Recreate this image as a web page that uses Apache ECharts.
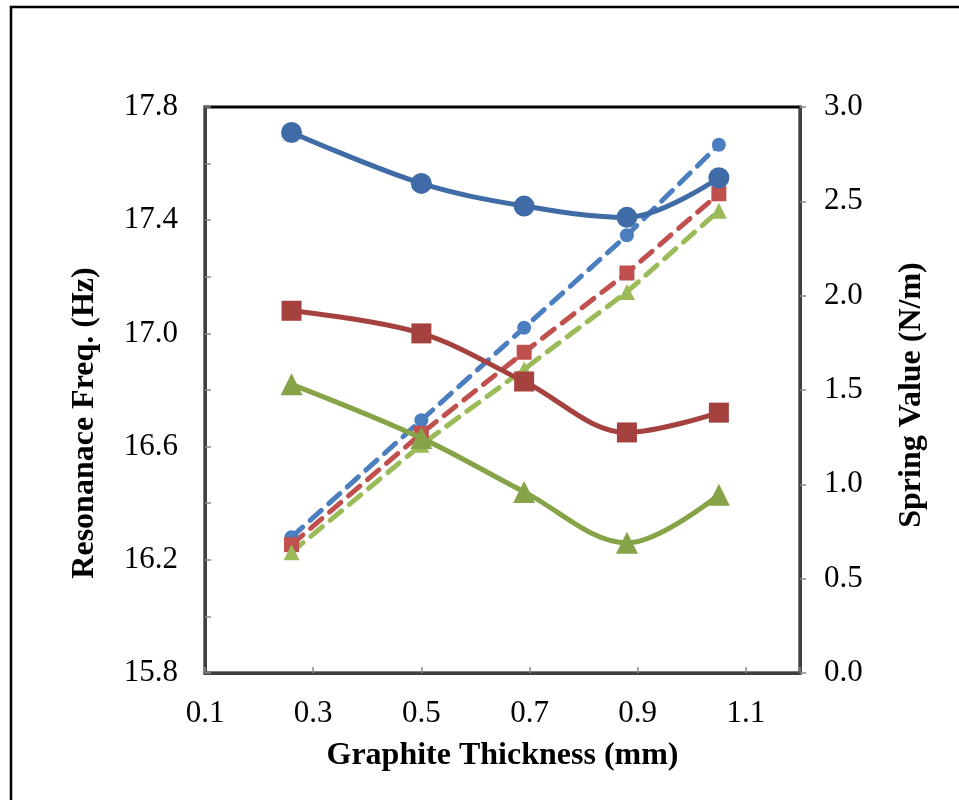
<!DOCTYPE html>
<html>
<head>
<meta charset="utf-8">
<script src="https://cdn.jsdelivr.net/npm/echarts@6/dist/echarts.min.js"></script>
<style>
  html, body { margin: 0; padding: 0; background: #fff; }
  #chart { width: 959px; height: 800px; }
</style>
</head>
<body>
<div id="chart"></div>
<script>
// graphite thickness (mm)
const thickness = [0.26, 0.50, 0.69, 0.88, 1.05]

// resonance frequency (Hz), left axis
const freqBlue = [17.71, 17.53, 17.45, 17.41, 17.55]
const freqRed = [17.08, 17.00, 16.83, 16.65, 16.72]
const freqGreen = [16.82, 16.63, 16.44, 16.26, 16.43]

// spring value (N/m), right axis
const springBlue = [0.72, 1.34, 1.83, 2.32, 2.80]
const springRed = [0.68, 1.27, 1.70, 2.12, 2.54]
const springGreen = [0.64, 1.21, 1.61, 2.02, 2.45]

const xTicks = [0.1, 0.3, 0.5, 0.7, 0.9, 1.1]

const FONT = '"Liberation Serif", "Times New Roman", serif'
const pairs = (ys) => thickness.map((x, i) => [x, ys[i]])

const solid = (data, color, symbol, size) => ({
  type: 'line',
  yAxisIndex: 0,
  data: pairs(data),
  smooth: 0.35,
  symbol: symbol,
  symbolSize: size,
  z: 3,
  itemStyle: { color: color },
  lineStyle: { color: color, width: 5 }
})

const dashed = (data, color, symbol, size) => ({
  type: 'line',
  yAxisIndex: 1,
  data: pairs(data),
  symbol: symbol,
  symbolSize: size,
  z: 2,
  itemStyle: { color: color },
  lineStyle: { color: color, width: 5, type: [15, 10], cap: 'round' }
})

const chart = echarts.init(document.getElementById('chart'))
chart.setOption({
  animation: false,
  backgroundColor: '#fff',
  grid: {
    left: 205, right: 159, top: 107, bottom: 127,
    show: true, borderColor: '#000', borderWidth: 3
  },
  xAxis: {
    type: 'value',
    min: 0.1, max: 1.2, interval: 0.2,
    name: 'Graphite Thickness (mm)',
    nameLocation: 'middle',
    nameGap: 67,
    nameTextStyle: { fontFamily: FONT, fontSize: 32, fontWeight: 'bold', color: '#000' },
    axisLine: { lineStyle: { color: '#404040', width: 3 } },
    axisTick: { inside: true, length: 6, lineStyle: { color: '#888', width: 1.5 } },
    axisLabel: {
      margin: 25,
      fontFamily: FONT, fontSize: 31, color: '#000',
      formatter: (v) => xTicks.some(t => Math.abs(t - v) < 1e-6) ? v.toFixed(1) : ''
    },
    splitLine: { show: false }
  },
  yAxis: [
    {
      type: 'value',
      min: 15.8, max: 17.8, interval: 0.2,
      axisLine: { show: true, lineStyle: { color: '#404040', width: 3 } },
      axisTick: { show: true, inside: true, length: 6, lineStyle: { color: '#888', width: 1.5 } },
      axisLabel: {
        margin: 27,
        fontFamily: FONT, fontSize: 31, color: '#000',
        formatter: (v) => Math.round(v * 10) % 4 === 2 ? v.toFixed(1) : ''
      },
      splitLine: { show: false }
    },
    {
      type: 'value',
      min: 0, max: 3, interval: 0.5,
      position: 'right',
      axisLine: { show: true, lineStyle: { color: '#404040', width: 3 } },
      axisTick: { show: true, inside: false, length: 6, lineStyle: { color: '#888', width: 1.5 } },
      axisLabel: {
        margin: 24,
        fontFamily: FONT, fontSize: 31, color: '#000',
        formatter: (v) => v.toFixed(1)
      },
      splitLine: { show: false }
    }
  ],
  graphic: [
    {
      type: 'rect', silent: true, z: -10,
      shape: { x: 11, y: 7, width: 1000, height: 900 },
      style: { fill: 'none', stroke: '#000', lineWidth: 2.5 }
    },
    {
      type: 'text', x: 85, y: 423, rotation: Math.PI / 2,
      style: {
        text: 'Resonanace Freq. (Hz)', align: 'center', verticalAlign: 'middle',
        font: 'bold 32px ' + FONT, fill: '#000'
      }
    },
    {
      type: 'text', x: 912, y: 395, rotation: Math.PI / 2,
      style: {
        text: 'Spring Value (N/m)', align: 'center', verticalAlign: 'middle',
        font: 'bold 32px ' + FONT, fill: '#000'
      }
    }
  ],
  series: [
    dashed(springBlue, '#4a7ebf', 'circle', 14),
    dashed(springRed, '#c0504d', 'rect', 15),
    dashed(springGreen, '#9bbb59', 'triangle', 16),
    solid(freqBlue, '#3f6ca6', 'circle', 21),
    solid(freqRed, '#a5413f', 'rect', 20),
    solid(freqGreen, '#86a447', 'triangle', 22)
  ]
})
</script>
</body>
</html>
